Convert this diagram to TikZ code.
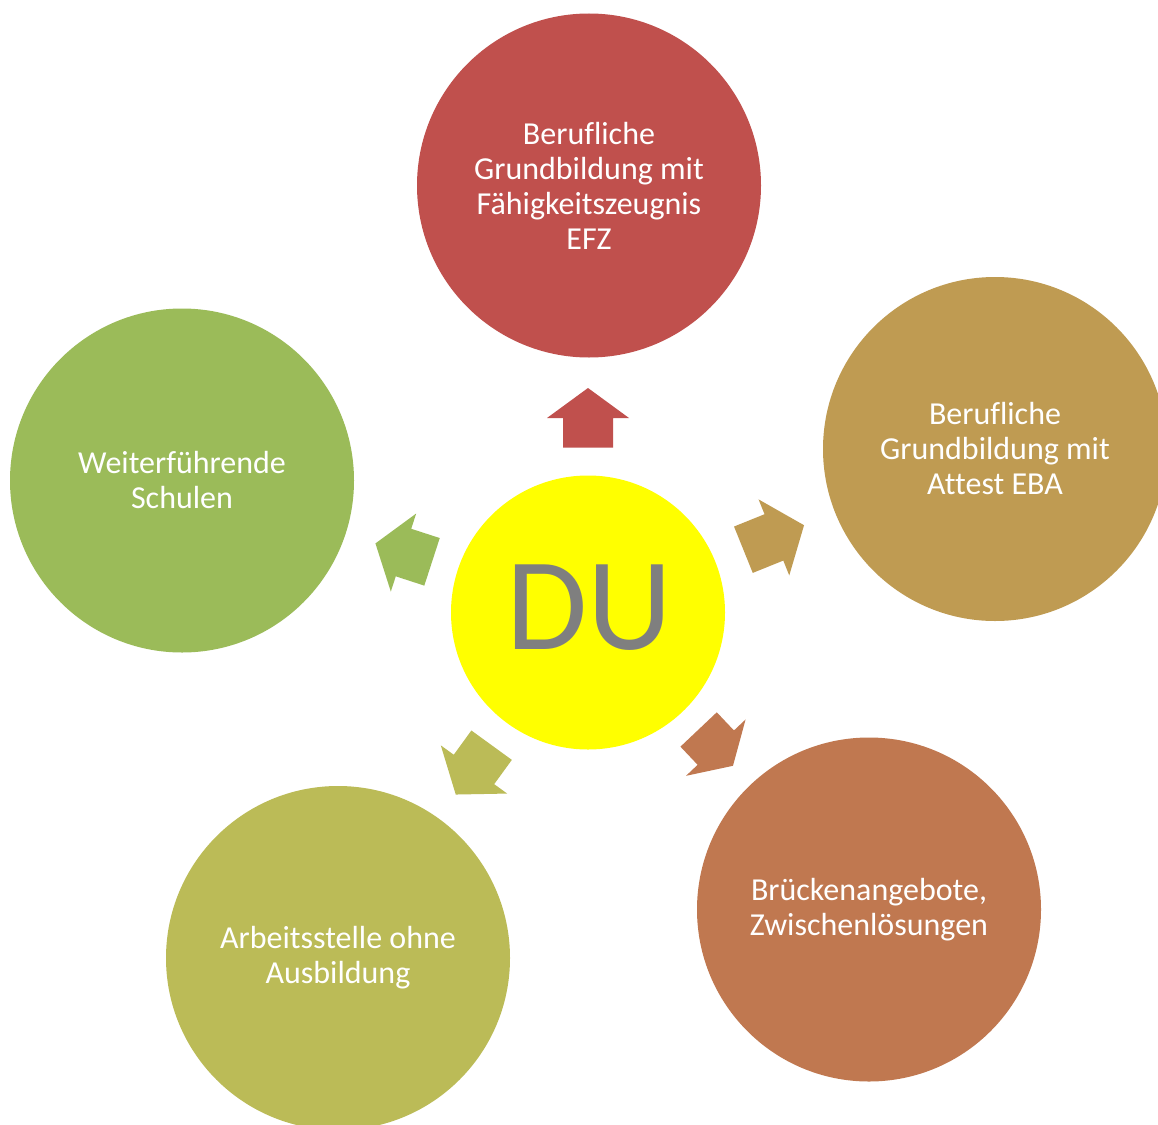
\documentclass[tikz,border=0pt]{standalone}
\usepackage{fontspec}
\setmainfont{Carlito}[Ligatures=NoCommon]
\definecolor{cRed}{HTML}{C0504D}
\definecolor{cTan}{HTML}{BF9B52}
\definecolor{cBrown}{HTML}{C07850}
\definecolor{cOlive}{HTML}{BBBB57}
\definecolor{cGreen}{HTML}{9BBB59}
\definecolor{cGray}{HTML}{7F7F7F}
\definecolor{cYellow}{HTML}{FFFF00}
\tikzset{
  outercirc/.style={circle, minimum size=344pt, inner sep=0pt, text=white, align=center,
    font=\fontsize{32}{35}\selectfont},
  centercirc/.style={circle, minimum size=274pt, inner sep=0pt, fill=cYellow},
}
% block arrow: colour, angle, base distance, neck distance, tip distance
\newcommand{\duarrow}[5]{%
  \fill[#1, shift={(588,612.5)}, rotate=#2]
    (#3,-25) -- (#4,-25) -- (#4,-41) -- (#5,0) -- (#4,41) -- (#4,25) -- (#3,25) -- cycle;}
\begin{document}
\begin{tikzpicture}[x=1pt, y=-1pt]
\useasboundingbox (0,0) rectangle (1158,1124);
\fill[white] (0,0) rectangle (1158,1124);
\clip (0,0) rectangle (1158,1124);

\node[centercirc] (du) at (588,612.5) {};
\node[text=cGray, font=\fontsize{132}{132}\selectfont, inner sep=0pt] (dutext) at (589.5,607.5) {DU};

\node[outercirc, fill=cRed] (efz) at (589,185.5)
  {Berufliche\\Grundbildung mit\\Fähigkeitszeugnis\\EFZ};
\node[outercirc, fill=cTan] (eba) at (995,449)
  {Berufliche\\Grundbildung mit\\Attest EBA};
\node[outercirc, fill=cBrown] (bruecke) at (869,909.5)
  {Brückenangebote,\\Zwischenlösungen};
\node[outercirc, fill=cOlive] (arbeit) at (338,958)
  {Arbeitsstelle ohne\\Ausbildung};
\node[outercirc, fill=cGreen] (schulen) at (182,480.5)
  {Weiterführende\\Schulen};

\duarrow{cRed}{90}{165}{194.5}{224.5}
\duarrow{cTan}{22}{167.6}{200.5}{233}
\duarrow{cBrown}{-46.6}{161}{186}{211}
\duarrow{cOlive}{-126}{164}{194}{225}
\duarrow{cGreen}{162}{164}{194}{223.5}
\end{tikzpicture}
\end{document}
